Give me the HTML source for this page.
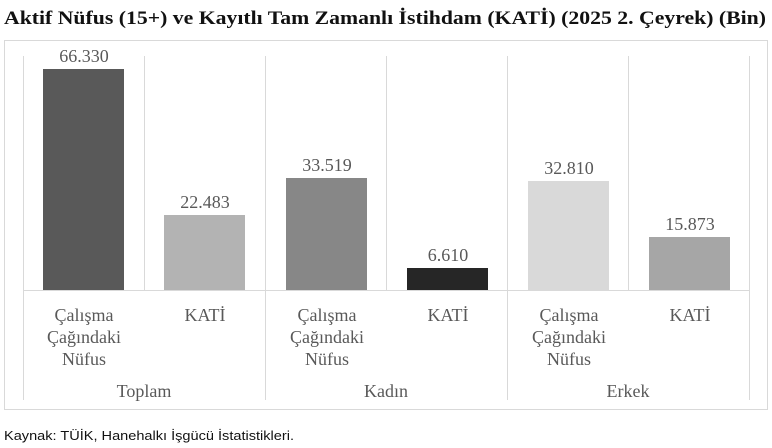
<!DOCTYPE html><html><head><meta charset="utf-8"><style>body{margin:0;background:#fff}</style></head><body>
<svg width="772" height="443" xmlns="http://www.w3.org/2000/svg" font-family="Liberation Serif, serif">
<text x="4" y="24" font-size="19" font-weight="bold" fill="#111" textLength="762" lengthAdjust="spacingAndGlyphs">Aktif Nüfus (15+) ve Kayıtlı Tam Zamanlı İstihdam (KATİ) (2025 2. Çeyrek) (Bin)</text>
<rect x="4.5" y="40.5" width="763" height="369" fill="#fff" stroke="#d9d9d9"/>
<g stroke="#d9d9d9" stroke-width="1">
<line x1="23.5" y1="56" x2="23.5" y2="400"/><line x1="265.5" y1="56" x2="265.5" y2="400"/><line x1="507.5" y1="56" x2="507.5" y2="400"/><line x1="749.5" y1="56" x2="749.5" y2="400"/>
<line x1="144.5" y1="56" x2="144.5" y2="290"/><line x1="386.5" y1="56" x2="386.5" y2="290"/><line x1="628.5" y1="56" x2="628.5" y2="290"/>
<line x1="23" y1="290.5" x2="750" y2="290.5"/>
</g>
<rect x="43" y="69" width="81" height="221" fill="#595959"/>
<rect x="164" y="215" width="81" height="75" fill="#b3b3b3"/>
<rect x="286" y="178" width="81" height="112" fill="#878787"/>
<rect x="407" y="268" width="81" height="22" fill="#262626"/>
<rect x="528" y="181" width="81" height="109" fill="#d9d9d9"/>
<rect x="649" y="237" width="81" height="53" fill="#a6a6a6"/>
<g font-size="18" fill="#595959" text-anchor="middle">
<text x="84" y="62">66.330</text><text x="205" y="208">22.483</text><text x="327" y="171">33.519</text><text x="448" y="261">6.610</text><text x="569" y="174">32.810</text><text x="690" y="230">15.873</text>
<text x="84" y="321">Çalışma</text><text x="84" y="343">Çağındaki</text><text x="84" y="365">Nüfus</text><text x="205" y="321">KATİ</text>
<text x="327" y="321">Çalışma</text><text x="327" y="343">Çağındaki</text><text x="327" y="365">Nüfus</text><text x="448" y="321">KATİ</text>
<text x="569" y="321">Çalışma</text><text x="569" y="343">Çağındaki</text><text x="569" y="365">Nüfus</text><text x="690" y="321">KATİ</text>
<text x="144" y="397">Toplam</text><text x="386" y="397">Kadın</text><text x="628" y="397">Erkek</text>
</g>
<text x="4" y="440" font-family="Liberation Sans, sans-serif" font-size="13" fill="#111" textLength="290" lengthAdjust="spacingAndGlyphs">Kaynak: TÜİK, Hanehalkı İşgücü İstatistikleri.</text>
</svg></body></html>
